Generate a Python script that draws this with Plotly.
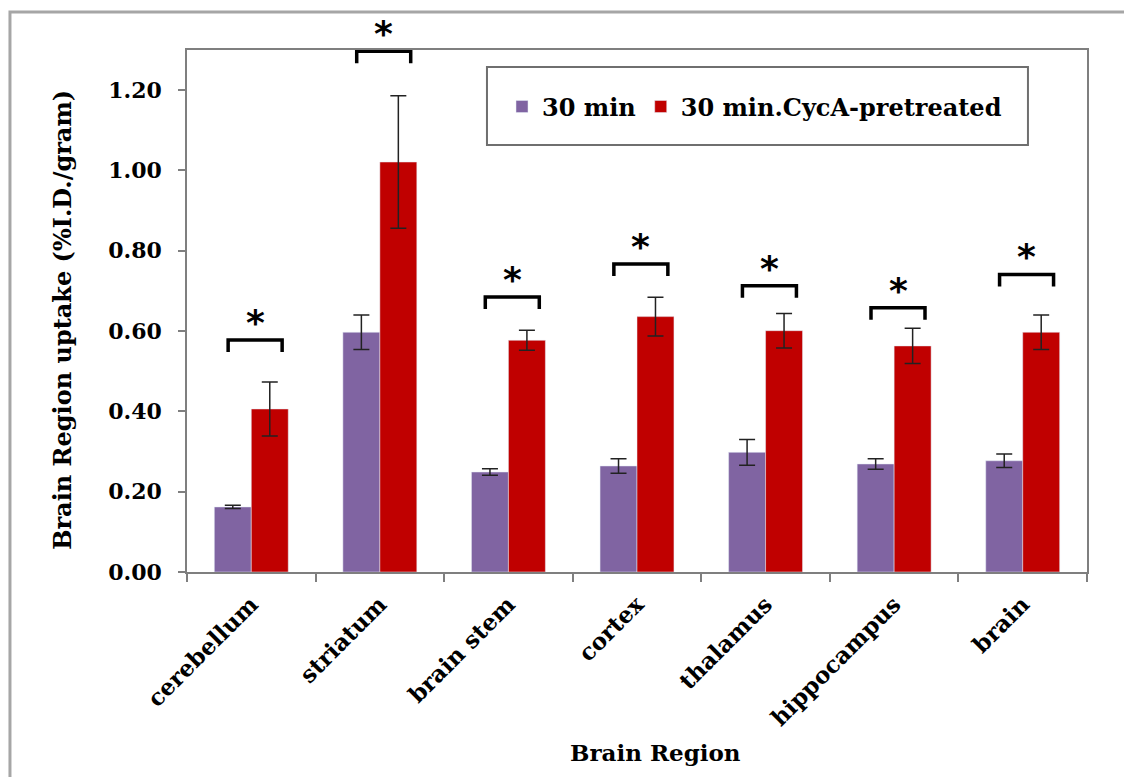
import plotly.graph_objects as go

regions = ["cerebellum", "striatum", "brain stem", "cortex", "thalamus", "hippocampus", "brain"]
uptake_30 = [0.162, 0.597, 0.249, 0.264, 0.298, 0.269, 0.277]
err_30 = [0.004, 0.043, 0.008, 0.018, 0.032, 0.013, 0.017]
uptake_cyca = [0.406, 1.021, 0.577, 0.636, 0.601, 0.563, 0.597]
err_cyca = [0.067, 0.165, 0.025, 0.048, 0.043, 0.044, 0.043]
bracket_y = [0.578, 1.297, 0.685, 0.767, 0.713, 0.658, 0.741]
y_ticks = [0.0, 0.2, 0.4, 0.6, 0.8, 1.0, 1.2]

FONT = "DejaVu Serif, serif"
STAR_FONT = "DejaVu Sans"
PURPLE = "#8064A2"
RED = "#C00000"

fig = go.Figure()
fig.add_trace(go.Bar(
    x=regions, y=uptake_30, name="30 min", marker_color=PURPLE,
    error_y=dict(type="data", array=err_30, color="#222222", thickness=1.5, width=8),
))
fig.add_trace(go.Bar(
    x=regions, y=uptake_cyca, name="30 min.CycA-pretreated", marker_color=RED,
    error_y=dict(type="data", array=err_cyca, color="#222222", thickness=1.5, width=8),
))

# significance brackets
leg = 0.03
bx, by = [], []
for i, h in enumerate(bracket_y):
    bx += [i - 0.18, i - 0.18, i + 0.24, i + 0.24, None]
    by += [h - leg, h, h, h - leg, None]
fig.add_trace(go.Scatter(
    x=bx, y=by, xaxis="x2", mode="lines", line=dict(color="black", width=3.5),
    showlegend=False, hoverinfo="skip", cliponaxis=False,
))

# asterisks
star_annotations = [
    dict(text="*", xref="x2", yref="y", x=i + 0.03, y=h, xanchor="center", yanchor="bottom",
         yshift=-5, showarrow=False,
         font=dict(family=STAR_FONT, size=36, color="black", weight="bold"))
    for i, h in enumerate(bracket_y)
]

fig.update_layout(
    width=1124, height=769,
    margin=dict(l=179, r=45, t=42, b=205),
    paper_bgcolor="white", plot_bgcolor="white",
    barmode="group", bargap=0.425, bargroupgap=0,
    font=dict(family=FONT, color="black"),
    showlegend=True,
    legend=dict(
        orientation="h", x=0.35, y=0.891, xanchor="left", yanchor="middle",
        font=dict(family=FONT, size=24, color="black", weight="bold"),
        bgcolor="rgba(0,0,0,0)", itemwidth=30, tracegroupgap=0,
    ),
    xaxis=dict(
        type="category", range=[-0.5, 6.5], tickson="boundaries",
        ticks="outside", ticklen=8, tickcolor="#7f7f7f", tickwidth=1.5,
        showline=True, linecolor="#7f7f7f", linewidth=1.5, mirror=True,
        showgrid=False, tickangle=-45, ticklabelstandoff=8,
        tickfont=dict(family=FONT, size=23, color="black", weight="bold"),
    ),
    xaxis2=dict(overlaying="x", range=[-0.5, 6.5], visible=False),
    yaxis=dict(
        range=[0, 1.30], tickvals=y_ticks, tickformat=".2f",
        ticks="outside", ticklen=7, tickcolor="#7f7f7f", tickwidth=1.5,
        showline=True, linecolor="#7f7f7f", linewidth=1.5, mirror=True,
        showgrid=False, zeroline=False, ticklabelstandoff=12,
        tickfont=dict(family=FONT, size=22, color="black", weight="bold"),
    ),
    annotations=[
        dict(text="Brain Region", xref="paper", yref="paper", x=0.521, y=-0.345,
             xanchor="center", yanchor="middle", showarrow=False,
             font=dict(family=FONT, size=23, color="black", weight="bold")),
        dict(text="Brain Region uptake (%I.D./gram)", xref="paper", yref="paper",
             x=-0.1378, y=0.483, xanchor="center", yanchor="middle", textangle=-90,
             showarrow=False, font=dict(family=FONT, size=24, color="black", weight="bold")),
    ] + star_annotations,
    shapes=[
        dict(type="rect", xref="paper", yref="paper", x0=0.3333, x1=0.9344, y0=0.818, y1=0.9674,
             line=dict(color="#6f6f6f", width=2), fillcolor="rgba(0,0,0,0)", layer="above"),
        dict(type="rect", xref="paper", yref="paper", x0=-0.1967, x1=1.07, y0=-0.40, y1=1.0728,
             line=dict(color="#a6a6a6", width=3), fillcolor="rgba(0,0,0,0)"),
    ],
)

fig.write_html("out.html")
